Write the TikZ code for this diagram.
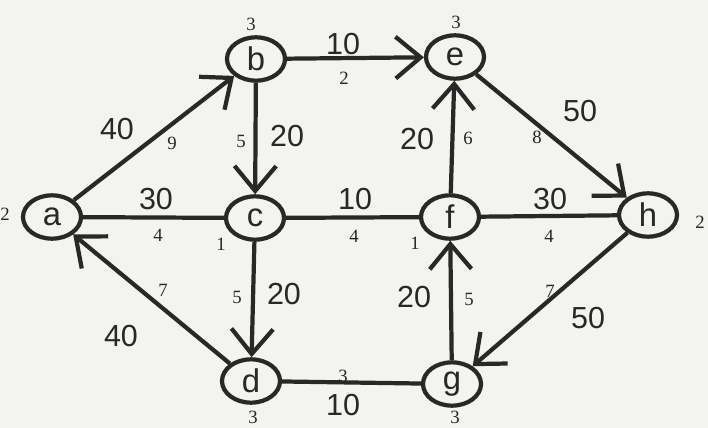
\documentclass[tikz,border=0pt]{standalone}
\usepackage{fontspec}
\setmainfont{Liberation Sans}
\newfontfamily\tagfont{Liberation Serif}
\usepackage{xcolor}
\definecolor{paper}{RGB}{243,243,239}
\definecolor{ink}{RGB}{40,40,40}
\usepackage{tikz}
\usetikzlibrary{arrows.meta,shapes.geometric}
\tikzstyle{vertex}=[draw=ink, ellipse, line width=3.6pt, minimum width=1.74cm, minimum height=1.3cm, inner sep=0pt, text=ink, font=\fontsize{28}{30}\selectfont]
\tikzstyle{undirected}=[draw=ink, line width=3.6pt]
\tikzstyle{directed}=[undirected, -{Straight Barb[length=0.75cm,width=1.25cm]}]
\tikzstyle{weight}=[text=ink, inner sep=0pt, font=\fontsize{26}{28}\selectfont]
\tikzstyle{tag}=[text=ink, inner sep=0pt, font=\tagfont\fontsize{16}{18}\selectfont]

\begin{document}
\begin{tikzpicture}[x=0.03cm, y=-0.03cm]
  \fill[paper] (0,0) rectangle (708,428);
  % vertices
  \foreach \n/\x/\y in {a/52/217, b/256/59, e/455/57, c/255/218, f/450/217, h/648/215, d/251/381, g/452/384}{
    \node[vertex] (\n) at (\x,\y) {\n};
  }
  % numbers next to the vertices
  \foreach \t/\x/\y [count=\k] in {2/5/214, 3/251/24, 3/456/22, 1/221/244, 1/415/243, 2/700/222, 3/253/417, 3/455/417}{
    \node[tag] (t\k) at (\x,\y) {\t};
  }
  % arcs
  \draw[directed] (a) -- (b);
  \draw[directed] (b) -- (e);
  \draw[directed] (b) -- (c);
  \draw[directed] (f) -- (e);
  \draw[directed] (e) -- (h);
  \draw[directed] (c) -- (d);
  \draw[directed] (d) -- (a);
  \draw[directed] (g) -- (f);
  \draw[directed] (h) -- (g);
  \draw[undirected] (a) -- (c);
  \draw[undirected] (c) -- (f);
  \draw[undirected] (f) -- (h);
  \draw[undirected] (d) -- (g);
  % weights
  \foreach \t/\x/\y [count=\k] in {40/117/129, 10/343/44, 20/287/136, 30/156/199, 10/355/199, 20/417/139, 50/580/111, 30/550/199, 20/284/294, 40/121/336, 20/414/297, 50/588/318, 10/343/405}{
    \node[weight] (w\k) at (\x,\y) {\t};
  }
  % small numbers on the arcs
  \foreach \t/\x/\y [count=\k] in {9/172/143, 2/344/78, 5/241/141, 4/158/235, 4/354/236, 6/468/138, 8/537/137, 4/549/236, 5/237/297, 7/163/290, 5/469/299, 7/550/291, 3/343/376}{
    \node[tag] (s\k) at (\x,\y) {\t};
  }
\end{tikzpicture}
\end{document}
